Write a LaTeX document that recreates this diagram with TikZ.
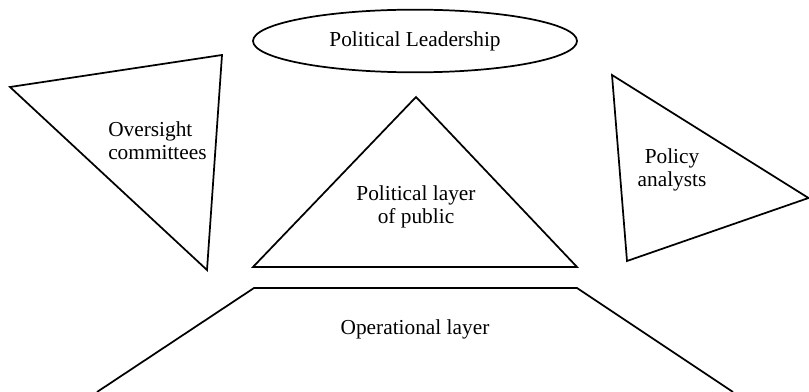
\documentclass[tikz,border=0pt]{standalone}
\usepackage{fontspec}
\setmainfont{Liberation Serif}
\usetikzlibrary{shapes.geometric}
\tikzset{%
        x=0.75pt,
        y=-0.75pt,
        outline/.style={draw=black, line width=1.3pt, line join=miter},
        label text/.style={font=\fontsize{16}{17.5}\selectfont, inner sep=0pt, align=center}
}

\begin{document}
\begin{tikzpicture}
        \useasboundingbox (0,0) rectangle (809,392);
        % leadership at the top
        \node[outline, ellipse, minimum width=243pt, minimum height=47pt,
              inner sep=0pt, label text] (lead) at (415,41) {Political Leadership};
        % three triangles
        \draw[outline] (10,87) -- (222,55) -- (207,270) -- cycle;
        \draw[outline] (612,75) -- (808.5,198) -- (627,261) -- cycle;
        \draw[outline] (253,267) -- (416,97) -- (577,267) -- cycle;
        % operational base
        \draw[outline] (97,392) -- (254,288) -- (577,288) -- (733,392);
        % texts
        \node[label text, align=left, anchor=west] (over) at (108,141) {Oversight\\committees};
        \node[label text] (policy) at (672,170) {Policy\\analysts};
        \node[label text] (layer) at (416,207) {Political layer\\of public};
        \node[label text] (oper) at (415,329) {Operational layer};
\end{tikzpicture}
\end{document}
